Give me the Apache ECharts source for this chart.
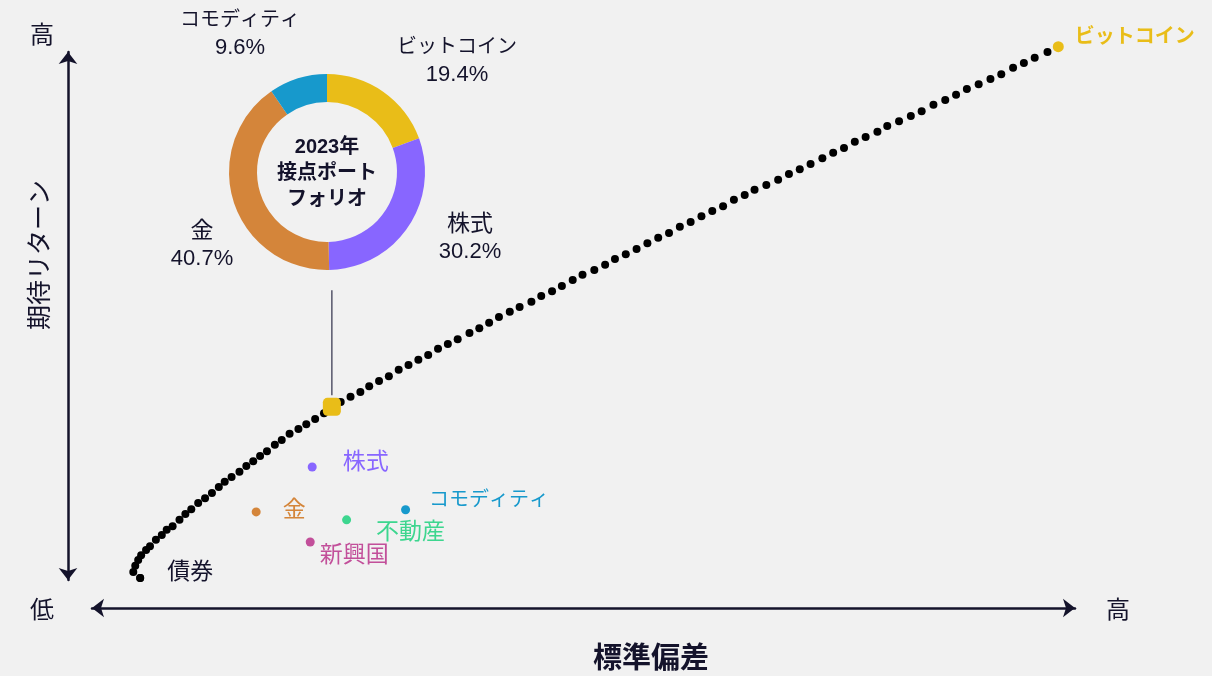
<!DOCTYPE html>
<html>
<head>
<meta charset="utf-8">
<script src="https://cdn.jsdelivr.net/npm/echarts@6/dist/echarts.min.js"></script>
<style>
html,body{margin:0;padding:0;background:#f1f1f1;}
#chart{width:1212px;height:676px;}
</style>
</head>
<body>
<div id="chart"></div>
<script>
// Efficient frontier (standard deviation / expected return, relative units 0-100)
const frontierStd = [4.9,4.2,4.4,4.7,5.0,5.5,5.9,6.5,7.1,7.6,8.2,8.9,9.5,10.1,10.8,11.5,12.2,12.9,13.5,14.2,
  15.0,15.7,16.4,17.1,17.8,18.6,19.3,20.1,21.0,21.8,22.7,23.6,24.4,25.3,26.3,27.3,28.2,29.2,30.2,31.2,
  32.2,33.2,34.2,35.2,36.2,37.2,38.4,39.4,40.4,41.4,42.5,43.5,44.7,45.7,46.8,47.8,48.9,49.9,51.1,52.2,
  53.2,54.3,55.4,56.5,57.6,58.7,59.8,60.9,62.0,63.1,64.2,65.3,66.4,67.4,68.6,69.8,70.9,72.0,73.1,74.3,
  75.4,76.5,77.6,78.7,79.9,80.9,82.1,83.3,84.4,85.6,86.8,87.9,89.0,90.2,91.4,92.5,93.7,94.8,95.9,97.2];
const frontierRet = [0.4,1.5,2.7,3.8,4.7,5.7,6.4,7.6,8.5,9.5,10.2,11.4,12.5,13.4,14.6,15.5,16.5,17.6,18.6,19.5,
  20.5,21.6,22.5,23.5,24.4,25.6,26.5,27.7,28.6,29.5,30.5,31.6,32.8,33.7,34.7,35.6,36.7,37.7,38.6,39.8,
  40.7,41.7,42.6,43.8,44.7,45.6,46.8,47.7,48.7,49.8,50.8,51.7,52.7,53.8,54.7,55.7,56.8,57.8,58.7,59.7,
  60.8,61.7,62.7,63.8,64.8,65.7,66.9,67.8,68.9,69.9,70.8,72.0,72.9,73.9,74.8,75.8,76.9,77.8,78.8,79.9,
  80.9,81.8,83.0,83.9,84.9,86.0,86.9,87.9,88.8,90.0,90.9,91.9,93.0,93.9,94.9,95.8,97.0,97.9,98.9,100.0];

// Individual assets
const assetNames = ['株式','金','不動産','コモディティ','新興国'];
const assetStd = [22.4,16.7,25.9,31.9,22.2];
const assetRet = [21.4,12.9,11.4,13.3,7.2];

const bondName = '債券';
const bitcoinName = 'ビットコイン';
const bitcoinStd = 98.3;
const bitcoinRet = 101.0;

// Tangent portfolio
const tangentStd = 24.4;
const tangentRet = 32.8;
const connectorRet = [35.0, 54.9];

// 2023 tangent portfolio weights
const portfolioNames = ['ビットコイン','株式','金','コモディティ'];
const portfolioWeights = [19.4,30.2,40.7,9.6];

// ---- styles ----
const FONT = "'Liberation Sans','Noto Sans CJK JP',sans-serif";
const DARK = '#14132b';
const assetColors = ['#8866ff','#d4853a','#3dd68f','#1799cc','#c24f9a'];
const portfolioColors = ['#e9bd18','#8866ff','#d4853a','#1799cc'];
const YELLOW = '#e9bd18';
const assetLabelLayout = [ // [distance, dy, fontSize]
  [26,-4,23],[22,-1,23],[25,13,23],[19,-9,20],[5,14,23]
];
const pieLabelPos = [[457,61],[470,238],[202,245],[240,34]];
const pieNameStyle = ['k','j','j','k'];

const chart = echarts.init(document.getElementById('chart'), null, {renderer:'canvas'});

const frontierData = frontierStd.map((x,i)=>[x, frontierRet[i]]);
const assetData = assetNames.map((n,i)=>({
  name:n, value:[assetStd[i], assetRet[i]],
  itemStyle:{color:assetColors[i], opacity:1},
  label:{show:true, position:'right', distance:assetLabelLayout[i][0], offset:[0,assetLabelLayout[i][1]],
    formatter:n, color:assetColors[i], fontSize:assetLabelLayout[i][2], fontFamily:FONT}
}));

const axisCommon = {
  type:'value', min:0, max:100,
  axisLine:{show:true, onZero:false, symbol:['arrow','arrow'], symbolSize:[14,12], lineStyle:{color:DARK, width:2.5}},
  axisTick:{show:false}, axisLabel:{show:false}, splitLine:{show:false}
};

const option = {
  backgroundColor:'#f1f1f1',
  animation:false,
  grid:{left:92, right:137, top:52, bottom:96},
  xAxis:Object.assign({}, axisCommon, {offset:28}),
  yAxis:Object.assign({}, axisCommon, {offset:24}),
  graphic:[
    {type:'text', x:42, y:36, style:{text:'高', font:'24px '+FONT, fill:DARK, align:'center', verticalAlign:'middle'}},
    {type:'text', x:42, y:611, style:{text:'低', font:'24px '+FONT, fill:DARK, align:'center', verticalAlign:'middle'}},
    {type:'text', x:1118, y:611, style:{text:'高', font:'24px '+FONT, fill:DARK, align:'center', verticalAlign:'middle'}},
    {type:'text', x:41, y:255, rotation:Math.PI/2, style:{text:'期待リターン', font:'25px '+FONT, fill:DARK, align:'center', verticalAlign:'middle'}},
    {type:'text', x:651, y:660, style:{text:'標準偏差', font:'bold 29px '+FONT, fill:DARK, align:'center', verticalAlign:'middle'}},
    {type:'text', x:327, y:173, style:{text:'2023年\n接点ポート\nフォリオ', font:'bold 20px '+FONT, lineHeight:26, fill:DARK, align:'center', verticalAlign:'middle'}}
  ],
  series:[
    {
      type:'line', data:[[tangentStd, connectorRet[0]],[tangentStd, connectorRet[1]]],
      symbol:'none', silent:true, lineStyle:{color:'#55556a', width:1.5}, z:1
    },
    {
      type:'scatter', data:frontierData, symbolSize:8, clip:false,
      itemStyle:{color:'#000000', opacity:1}, silent:true, z:2
    },
    {
      type:'scatter', clip:false, silent:true, z:3,
      data:[{name:bondName, value:frontierData[0], symbolSize:8, itemStyle:{color:'#000000', opacity:1},
        label:{show:true, position:'right', distance:23, offset:[0,-5], formatter:bondName, color:DARK, fontSize:23, fontFamily:FONT}}]
    },
    {
      type:'scatter', data:assetData, symbolSize:9, clip:false, silent:true, z:3
    },
    {
      type:'scatter', clip:false, silent:true, z:4,
      data:[{name:bitcoinName, value:[bitcoinStd, bitcoinRet], symbolSize:11, itemStyle:{color:YELLOW, opacity:1},
        label:{show:true, position:'right', distance:11, offset:[0,-9], formatter:bitcoinName, color:YELLOW, fontSize:20, fontWeight:'bold', fontFamily:FONT}}]
    },
    {
      type:'scatter', clip:false, silent:true, z:5,
      data:[[tangentStd, tangentRet]], symbol:'roundRect', symbolSize:18, itemStyle:{color:YELLOW, opacity:1}
    },
    {
      type:'pie', center:[327,172], radius:[70,98], startAngle:90, clockwise:true, silent:true,
      data:portfolioNames.map((n,i)=>({name:n, value:portfolioWeights[i], itemStyle:{color:portfolioColors[i]}})),
      label:{show:true, position:'outside',
        formatter:(p)=>'{'+pieNameStyle[p.dataIndex]+'|'+p.name+'}\n{v|'+p.value.toFixed(1)+'%}',
        color:DARK, fontFamily:FONT, align:'center',
        rich:{
          k:{fontSize:20, lineHeight:27, color:DARK, fontFamily:FONT, align:'center'},
          j:{fontSize:23, lineHeight:27, color:DARK, fontFamily:FONT, align:'center'},
          v:{fontSize:22, lineHeight:27, color:DARK, fontFamily:FONT, align:'center'}
        }},
      labelLine:{show:false},
      labelLayout:(params)=>{ const p = pieLabelPos[params.dataIndex]; return {x:p[0], y:p[1], align:'center', verticalAlign:'middle'}; }
    }
  ]
};
chart.setOption(option);
</script>
</body>
</html>
